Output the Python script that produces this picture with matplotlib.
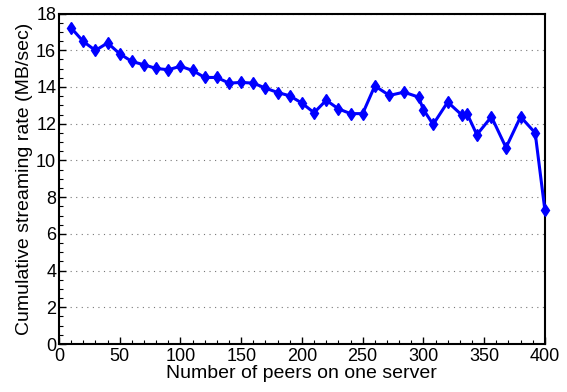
import matplotlib
matplotlib.use("Agg")
import matplotlib.pyplot as plt
from matplotlib.ticker import MultipleLocator

plt.rcParams['font.family'] = ['Liberation Sans', 'DejaVu Sans']

# numero de peers por servidor
peers = [10, 20, 30, 40, 50, 60, 70, 80, 90, 100, 110, 120, 130, 140, 150,
         160, 170, 180, 190, 200, 210, 220, 230, 240, 250, 260, 272, 284, 296,
         300, 308, 320, 332, 336, 344, 356, 368, 380, 392, 400]
# taxa acumulada (MB/sec)
rate = [17.22, 16.48, 15.99, 16.40, 15.81, 15.39, 15.21, 15.01, 14.94, 15.13,
        14.90, 14.52, 14.52, 14.21, 14.25, 14.21, 13.94, 13.70, 13.52, 13.12,
        12.60, 13.28, 12.81, 12.55, 12.55, 14.06, 13.54, 13.72, 13.45, 12.77,
        11.96, 13.18, 12.45, 12.54, 11.40, 12.38, 10.70, 12.38, 11.50, 7.29]

fig = plt.figure(figsize=(5.67, 3.92), dpi=100)
ax = fig.add_axes([0.104, 0.1224, 0.857, 0.843])

ax.plot(peers, rate, color="#0000ff", linewidth=2.2, marker="d",
        markersize=6, markeredgewidth=1.0, clip_on=False, zorder=3)

ax.set_xlim(0, 400)
ax.set_ylim(0, 18)
ax.xaxis.set_major_locator(MultipleLocator(50))
ax.xaxis.set_minor_locator(MultipleLocator(10))
ax.yaxis.set_major_locator(MultipleLocator(2))
ax.yaxis.set_minor_locator(MultipleLocator(0.5))

ax.grid(True, axis="y", which="major", linestyle=(0, (1, 4)), color="#777777", linewidth=0.8)
ax.tick_params(which="both", direction="in", top=False, right=False, labelsize=13)
ax.tick_params(axis="x", pad=3)
ax.tick_params(axis="y", pad=2)
ax.tick_params(which="major", length=5, width=1)
ax.tick_params(which="minor", length=3, width=0.8)
for s in ax.spines.values():
    s.set_linewidth(1.5)

ax.set_xlabel("Number of peers on one server", fontsize=14, labelpad=0)
ax.set_ylabel("Cumulative streaming rate (MB/sec)", fontsize=14, labelpad=2)

fig.savefig("out.png", dpi=100)
